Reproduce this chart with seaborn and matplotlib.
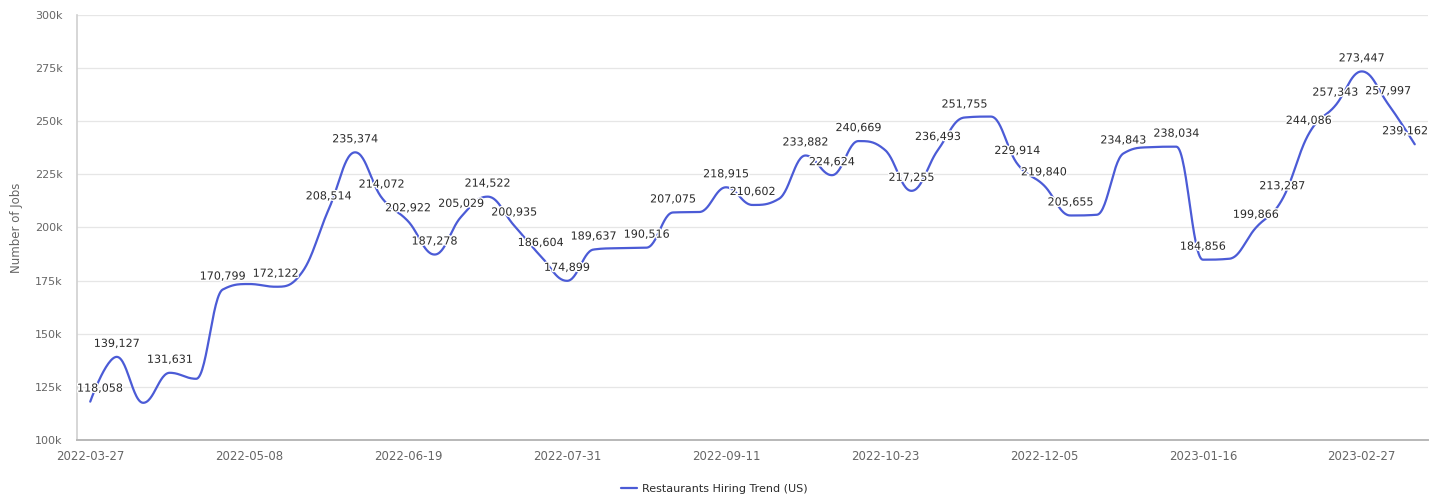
import numpy as np
import pandas as pd
import matplotlib
matplotlib.use("Agg")
import matplotlib.pyplot as plt
import matplotlib.patheffects as pe
from matplotlib.ticker import FuncFormatter, MultipleLocator
import seaborn as sns

# Weekly job postings, 2022-03-27 onward
jobs = [
    118058, 139127, 117500, 131631, 128800, 170799, 173400, 172122, 179000, 208514,
    235374, 214072, 202922, 187278, 205029, 214522, 200935, 186604, 174899, 189637,
    190300, 190516, 207075, 207300, 218915, 210602, 213500, 233882, 224624, 240669,
    236500, 217255, 236493, 251755, 252200, 229914, 219840, 205655, 206000, 234843,
    237800, 238034, 184856, 185300, 199866, 213287, 244086, 257343, 273447, 257997,
    239162,
]
date_labels = [
    "2022-03-27", "2022-05-08", "2022-06-19", "2022-07-31", "2022-09-11",
    "2022-10-23", "2022-12-05", "2023-01-16", "2023-02-27",
]
label_step = 6
series_name = "Restaurants Hiring Trend (US)"
y_title = "Number of Jobs"

LINE = "#4b5bd6"
AXIS_TXT = "#666666"
LABEL_TXT = "#2b2b2b"


def smooth_path(xs, ys, smoothing=1.5, samples=30):
    """Cubic spline through the points using neighbour-based control points."""
    n = len(xs)
    denom = smoothing + 1.0
    left, right = [], []
    for i in range(n):
        x, y = xs[i], ys[i]
        if 0 < i < n - 1:
            px, py = xs[i - 1], ys[i - 1]
            nx, ny = xs[i + 1], ys[i + 1]
            lcx = (smoothing * x + px) / denom
            lcy = (smoothing * y + py) / denom
            rcx = (smoothing * x + nx) / denom
            rcy = (smoothing * y + ny) / denom
            corr = 0.0
            if rcx != lcx:
                corr = (rcy - lcy) * (rcx - x) / (rcx - lcx) + y - rcy
            lcy += corr
            rcy += corr
            if lcy > py and lcy > y:
                lcy = max(py, y); rcy = 2 * y - lcy
            elif lcy < py and lcy < y:
                lcy = min(py, y); rcy = 2 * y - lcy
            if rcy > ny and rcy > y:
                rcy = max(ny, y); lcy = 2 * y - rcy
            elif rcy < ny and rcy < y:
                rcy = min(ny, y); lcy = 2 * y - rcy
            left.append((lcx, lcy)); right.append((rcx, rcy))
        else:
            left.append((x, y)); right.append((x, y))
    t = np.linspace(0, 1, samples)
    cx, cy = [xs[0]], [ys[0]]
    for i in range(1, n):
        p0 = np.array([xs[i - 1], ys[i - 1]])
        p1 = np.array(right[i - 1])
        p2 = np.array(left[i])
        p3 = np.array([xs[i], ys[i]])
        tt = t[1:, None]
        seg = ((1 - tt) ** 3) * p0 + 3 * ((1 - tt) ** 2) * tt * p1 \
            + 3 * (1 - tt) * tt ** 2 * p2 + tt ** 3 * p3
        cx.extend(seg[:, 0]); cy.extend(seg[:, 1])
    return np.array(cx), np.array(cy)


sns.set_theme(style="white")
plt.rcParams["font.family"] = ["DejaVu Sans"]

n = len(jobs)
idx = np.arange(n)
cx, cy = smooth_path(idx.astype(float), np.array(jobs, dtype=float))
curve = pd.DataFrame({"pos": cx, "jobs": cy, "series": series_name})

fig = plt.figure(figsize=(14.45, 5.0), dpi=100)
ax = fig.add_axes([77 / 1445, 60 / 500, 1351 / 1445, 425 / 500])

sns.lineplot(data=curve, x="pos", y="jobs", hue="series", palette=[LINE],
             sort=False, estimator=None, linewidth=1.6, ax=ax)

ax.set_xlim(-0.5, n - 0.5)
ax.set_ylim(100000, 300000)
ax.yaxis.set_major_locator(MultipleLocator(25000))
ax.yaxis.set_major_formatter(FuncFormatter(lambda v, _: f"{v / 1000:.0f}k"))
ax.set_xticks(np.arange(0, n, label_step)[:len(date_labels)])
ax.set_xticklabels(date_labels)

ax.grid(axis="y", color="#e6e6e6", linewidth=0.9)
ax.grid(axis="x", visible=False)
ax.set_axisbelow(True)
for side in ("top", "right"):
    ax.spines[side].set_visible(False)
ax.spines["left"].set_color("#cfcfcf")
ax.spines["left"].set_linewidth(1.2)
ax.spines["bottom"].set_color("#b8b8b8")
ax.spines["bottom"].set_linewidth(1.4)

ax.tick_params(axis="y", length=6.5, width=0.9, color="#ccd6eb", pad=4,
               labelsize=8, labelcolor=AXIS_TXT)
ax.tick_params(axis="x", length=0, pad=7, labelsize=8.5, labelcolor=AXIS_TXT)

ax.set_xlabel("")
ax.set_ylabel(y_title, fontsize=8.5, color=AXIS_TXT)
ax.yaxis.set_label_coords(-0.040, 0.5)

# Value labels above each point; labels that would collide are dropped
labels = []
for i, v in zip(idx, jobs):
    a = ax.annotate(f"{v:,}", xy=(i, v), xytext=(0, 13), textcoords="offset pixels",
                    ha="center", va="center", fontsize=8, color=LABEL_TXT,
                    path_effects=[pe.withStroke(linewidth=2, foreground="white")],
                    zorder=5)
    labels.append(a)

fig.canvas.draw()
renderer = fig.canvas.get_renderer()
ax_box = ax.get_window_extent(renderer)
shown = []
pad_x, half_h = 1.5, 8.0
for a in labels:
    bb = a.get_window_extent(renderer)
    dx = 0.0
    if bb.x0 < ax_box.x0:
        dx = ax_box.x0 - bb.x0
    elif bb.x1 > ax_box.x1:
        dx = ax_box.x1 - bb.x1
    if dx:
        ox, oy = a.xyann
        a.xyann = (ox + dx, oy)
        bb = a.get_window_extent(renderer)
    yc = 0.5 * (bb.y0 + bb.y1)
    box = (bb.x0 - pad_x, yc - half_h, bb.x1 + pad_x, yc + half_h)
    clash = any(box[0] < s[2] and s[0] < box[2] and box[1] < s[3] and s[1] < box[3]
                for s in shown)
    if clash:
        a.set_visible(False)
    else:
        shown.append(box)

leg = ax.legend(loc="center", bbox_to_anchor=(714 / 1445, 11 / 500),
                bbox_transform=fig.transFigure, frameon=False, fontsize=8,
                handlelength=1.5, handletextpad=0.4, labelcolor=LABEL_TXT)
for h in leg.legend_handles:
    h.set_linewidth(1.6)

fig.savefig("out.png", dpi=100, facecolor="white")
